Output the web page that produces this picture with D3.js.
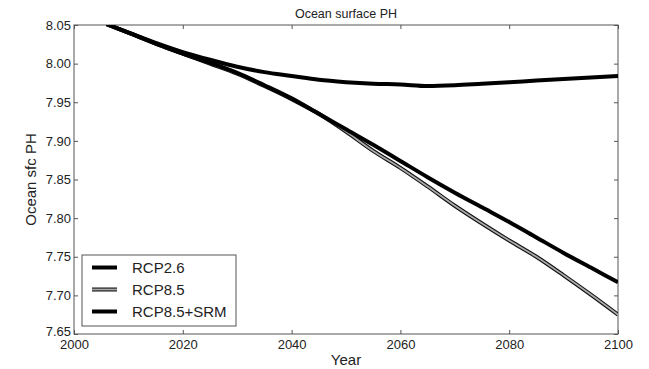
<!DOCTYPE html>
<html><head><meta charset="utf-8">
<script src="https://cdn.jsdelivr.net/npm/d3@7"></script>
<style>
body{margin:0;background:#fff;}
text{font-family:"Liberation Sans",Arial,sans-serif;fill:#222;}
</style></head>
<body><svg id="c" width="649" height="369"></svg>
<script>
const years = [2006,2010,2015,2020,2025,2030,2035,2040,2045,2050,2055,2060,2065,2070,2075,2080,2085,2090,2095,2100];
const rcp26 = [8.051,8.040,8.027,8.015,8.005,7.996,7.989,7.984,7.979,7.976,7.974,7.973,7.971,7.972,7.974,7.976,7.978,7.980,7.982,7.984];
const rcp85 = [8.051,8.040,8.026,8.013,8.000,7.987,7.971,7.954,7.935,7.912,7.887,7.865,7.841,7.816,7.793,7.771,7.750,7.726,7.701,7.675];
const rcp85srm = [8.051,8.040,8.026,8.013,8.001,7.988,7.972,7.955,7.935,7.915,7.895,7.874,7.853,7.833,7.814,7.795,7.775,7.755,7.736,7.717];
const xTicks = [2000,2020,2040,2060,2080,2100];
const yTicks = [7.65,7.70,7.75,7.80,7.85,7.90,7.95,8.00,8.05];
const seriesNames = ["RCP2.6","RCP8.5","RCP8.5+SRM"];

const L=74,R=618,T=25,B=334;
const svg=d3.select("#c");
const x=d3.scaleLinear().domain([2000,2100]).range([L,R]);
const y=d3.scaleLinear().domain([7.65,8.05]).range([B,T]);

svg.append("defs").append("clipPath").attr("id","clip").append("rect")
  .attr("x",L).attr("y",T).attr("width",R-L).attr("height",B-T);

const ax=svg.append("g").attr("transform",`translate(0,${B})`)
  .call(d3.axisBottom(x).tickValues(xTicks).tickFormat(d3.format("d")).tickSizeInner(-4).tickSizeOuter(0).tickPadding(6));
const axT=svg.append("g").attr("transform",`translate(0,${T})`)
  .call(d3.axisTop(x).tickValues(xTicks).tickFormat("").tickSizeInner(-4).tickSizeOuter(0));
const ay=svg.append("g").attr("transform",`translate(${L},0)`)
  .call(d3.axisLeft(y).tickValues(yTicks).tickFormat(d3.format(".2f")).tickSizeInner(-4).tickSizeOuter(0).tickPadding(3));
const ayR=svg.append("g").attr("transform",`translate(${R},0)`)
  .call(d3.axisRight(y).tickValues(yTicks).tickFormat("").tickSizeInner(-4).tickSizeOuter(0));
[ax,axT,ay,ayR].forEach(g=>{g.select(".domain").remove();g.selectAll("line").attr("stroke","#555");});
ax.selectAll("text").attr("font-size",13).style("font-family","Liberation Sans, Arial, sans-serif").attr("fill","#333");
ay.selectAll("text").attr("font-size",13).style("font-family","Liberation Sans, Arial, sans-serif").attr("fill","#333");
ay.selectAll(".tick").filter(d=>d===7.65).select("text").attr("y",-3);

svg.append("rect").attr("x",L).attr("y",T).attr("width",R-L).attr("height",B-T)
  .attr("fill","none").attr("stroke","#555").attr("stroke-width",1);

const line=d3.line().x((d,i)=>x(years[i])).y(d=>y(d)).curve(d3.curveMonotoneX);
const g=svg.append("g").attr("clip-path","url(#clip)");
g.append("path").datum(rcp26).attr("d",line).attr("fill","none").attr("stroke","#000").attr("stroke-width",4);
g.append("path").datum(rcp85).attr("d",line).attr("fill","none").attr("stroke","#111").attr("stroke-width",4);
g.append("path").datum(rcp85).attr("d",line).attr("fill","none").attr("stroke","#aaa").attr("stroke-width",1.8);
g.append("path").datum(rcp85srm).attr("d",line).attr("fill","none").attr("stroke","#000").attr("stroke-width",4);

svg.append("text").attr("x",(L+R)/2).attr("y",18).attr("text-anchor","middle").attr("font-size",12.5).text("Ocean surface PH");
svg.append("text").attr("x",(L+R)/2).attr("y",365).attr("text-anchor","middle").attr("font-size",15).text("Year");
svg.append("text").attr("transform",`translate(36,${(T+B)/2}) rotate(-90)`).attr("text-anchor","middle").attr("font-size",15).text("Ocean sfc PH");

const lg=svg.append("g");
lg.append("rect").attr("x",82).attr("y",255).attr("width",154).attr("height",71).attr("fill","#fff").attr("stroke","#555");
const rowsY=[267.5,289.5,311.5];
seriesNames.forEach((n,i)=>{
  const yy=rowsY[i];
  if(i===1){
    lg.append("line").attr("x1",92).attr("x2",117).attr("y1",yy).attr("y2",yy).attr("stroke","#111").attr("stroke-width",4);
    lg.append("line").attr("x1",92).attr("x2",117).attr("y1",yy).attr("y2",yy).attr("stroke","#aaa").attr("stroke-width",1.8);
  } else {
    lg.append("line").attr("x1",92).attr("x2",117).attr("y1",yy).attr("y2",yy).attr("stroke","#000").attr("stroke-width",4);
  }
  lg.append("text").attr("x",132).attr("y",yy+5.5).attr("font-size",15).text(n);
});
</script></body></html>
